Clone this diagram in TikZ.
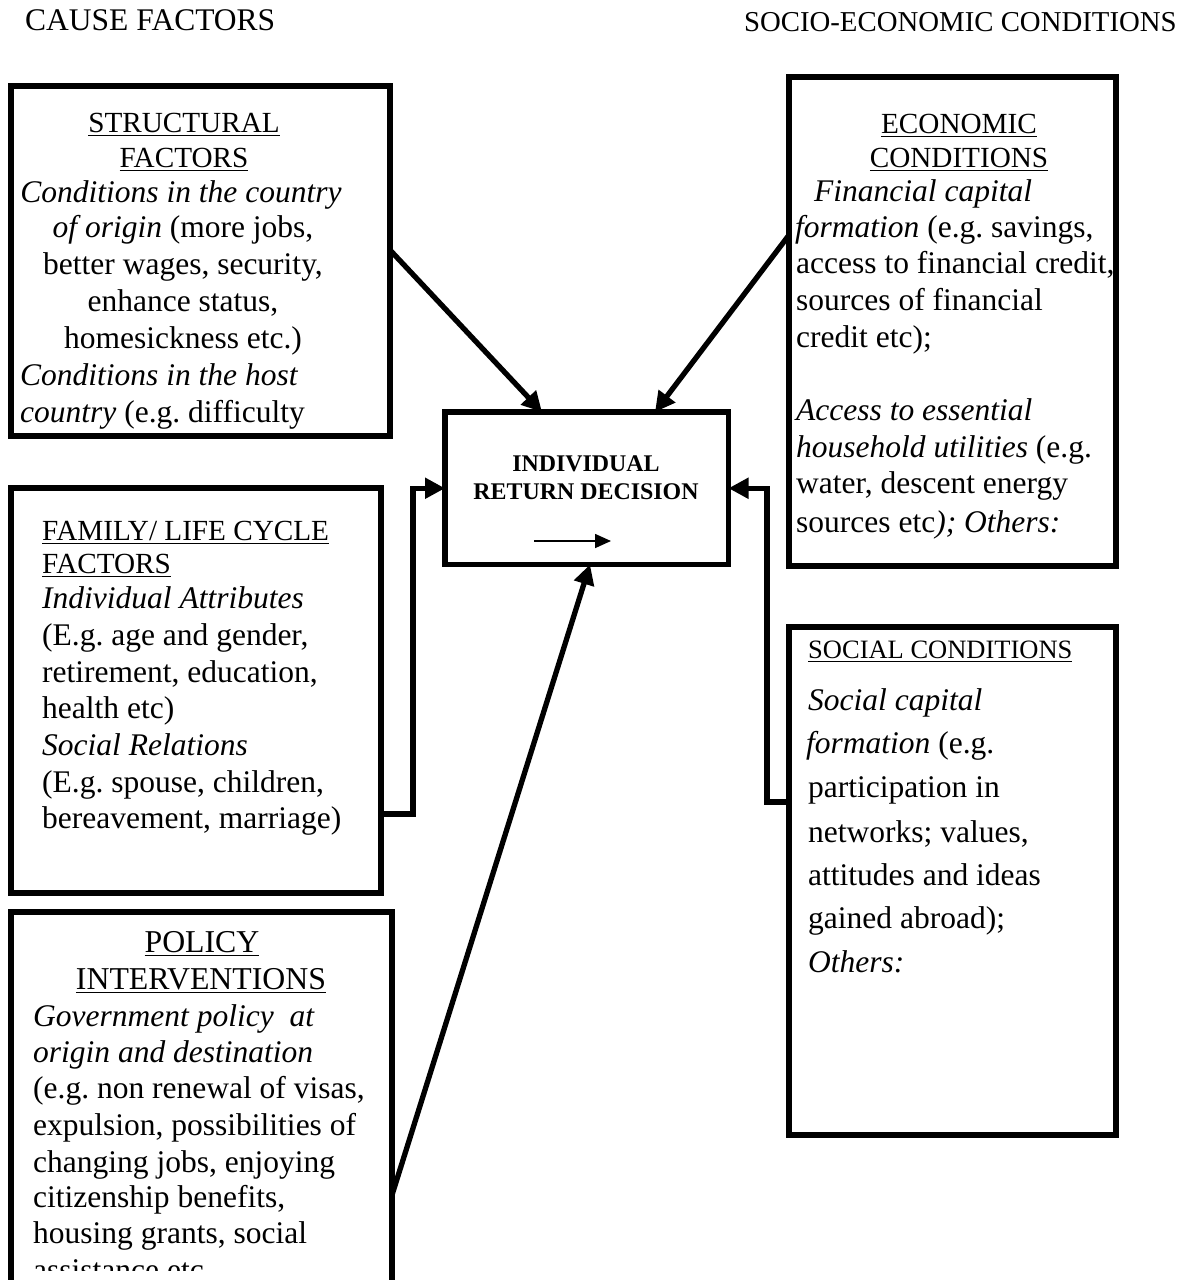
\documentclass[tikz,border=0pt]{standalone}
\usepackage{fontspec}
\setmainfont{Liberation Serif}
\usetikzlibrary{arrows.meta}
\frenchspacing
\newcommand{\myul}[1]{\leavevmode\sbox0{#1}\rlap{\rule[-4.2pt]{\wd0}{1.7pt}}\usebox0}
\begin{document}
\begin{tikzpicture}[x=1pt,y=-1pt,
  box/.style={draw, line width=5.8pt, inner sep=0pt, outer sep=0pt, anchor=north west},
  body/.style={inner sep=0pt, font=\fontsize{31.5}{36}\selectfont},
  head/.style={inner sep=0pt, font=\fontsize{29.2}{35}\selectfont},
  phead/.style={inner sep=0pt, font=\fontsize{31.8}{36}\selectfont},
  shead/.style={inner sep=0pt, font=\fontsize{26.5}{32}\selectfont},
  top/.style={inner sep=0pt},
  ctext/.style={inner sep=0pt, font=\fontsize{23.9}{28}\selectfont\bfseries},
  conn/.style={line width=5.3pt, -{Triangle[length=20pt,width=20pt]}},
  small/.style={line width=1.6pt, -{Triangle[length=16pt,width=14pt]}}]
\clip (0,0) rectangle (1185,1280);
\fill[white] (0,0) rectangle (1185,1280);

% headers
\node[top, anchor=base west, font=\fontsize{31.5}{36}\selectfont] (hcause) at (25,30) {CAUSE FACTORS};
\node[top, anchor=base east, font=\fontsize{28.8}{34}\selectfont] (hsocio) at (1177,31) {SOCIO-ECONOMIC CONDITIONS};

% structural factors text
\node[head, anchor=base] (st1) at (184,132) {\myul{STRUCTURAL}};
\node[head, anchor=base] (st2) at (184,167) {\myul{FACTORS}};
\node[body, anchor=base] (st3) at (181,202) {\textit{Conditions in the country}};
\node[body, anchor=base] (st4) at (183,237) {\textit{of origin} (more jobs,};
\node[body, anchor=base] (st5) at (183,274) {better wages, security,};
\node[body, anchor=base] (st6) at (183,311) {enhance status,};
\node[body, anchor=base] (st7) at (183,348) {homesickness etc.)};
\node[body, anchor=base west] (st8) at (20,385) {\textit{Conditions in the host}};
\node[body, anchor=base west] (st9) at (20,422) {\textit{country} (e.g. difficulty};

% economic conditions text
\node[head, anchor=base] (ec1) at (959,133) {\myul{ECONOMIC}};
\node[head, anchor=base] (ec2) at (959,167) {\myul{CONDITIONS}};
\node[body, anchor=base west] (ec3) at (814,201) {\textit{Financial capital}};
\node[body, anchor=base west] (ec4) at (795,237) {\textit{formation} (e.g. savings,};
\node[body, anchor=base west] (ec5) at (796,273) {access to financial credit,};
\node[body, anchor=base west] (ec6) at (796,310) {sources of financial};
\node[body, anchor=base west] (ec7) at (796,347) {credit etc);};
\node[body, anchor=base west] (ec8) at (796,420) {\textit{Access to essential}};
\node[body, anchor=base west] (ec9) at (796,457) {\textit{household utilities} (e.g.};
\node[body, anchor=base west] (ec10) at (796,493) {water, descent energy};
\node[body, anchor=base west] (ec11) at (796,532) {sources etc\textit{); Others:}};

% central text
\node[ctext, anchor=base] (ce1) at (586,471) {INDIVIDUAL};
\node[ctext, anchor=base] (ce2) at (586,499) {RETURN DECISION};

% family text
\node[head, anchor=base west] (fa1) at (42,540) {\myul{FAMILY/ LIFE CYCLE}};
\node[head, anchor=base west] (fa2) at (42,573) {\myul{FACTORS}};
\node[body, anchor=base west] (fa3) at (42,608) {\textit{Individual Attributes}};
\node[body, anchor=base west] (fa4) at (42,645) {(E.g. age and gender,};
\node[body, anchor=base west] (fa5) at (42,682) {retirement, education,};
\node[body, anchor=base west] (fa6) at (42,718) {health etc)};
\node[body, anchor=base west] (fa7) at (42,755) {\textit{Social Relations}};
\node[body, anchor=base west] (fa8) at (42,792) {(E.g. spouse, children,};
\node[body, anchor=base west] (fa9) at (42,828) {bereavement, marriage)};

% policy text
\node[phead, anchor=base] (po1) at (202,952) {\myul{POLICY}};
\node[phead, anchor=base] (po2) at (201,989) {\myul{INTERVENTIONS}};
\node[body, anchor=base west] (po3) at (33,1026) {\textit{Government policy\ \ at}};
\node[body, anchor=base west] (po4) at (33,1062) {\textit{origin and destination}};
\node[body, anchor=base west] (po5) at (33,1098) {(e.g. non renewal of visas,};
\node[body, anchor=base west] (po6) at (33,1135) {expulsion, possibilities of};
\node[body, anchor=base west] (po7) at (33,1172) {changing jobs, enjoying};
\node[body, anchor=base west] (po8) at (33,1207) {citizenship benefits,};
\node[body, anchor=base west] (po9) at (33,1243) {housing grants, social};
\begin{scope}
\clip (0,1200) rectangle (400,1270);
\node[body, anchor=base west] (po10) at (33,1280) {assistance etc.};
\end{scope}

% social text
\node[shead, anchor=base west] (so1) at (808,658) {\myul{SOCIAL CONDITIONS}};
\node[body, anchor=base west] (so2) at (808,710) {\textit{Social capital}};
\node[body, anchor=base west] (so3) at (806,753) {\textit{formation} (e.g.};
\node[body, anchor=base west] (so4) at (808,797) {participation in};
\node[body, anchor=base west] (so5) at (808,842) {networks; values,};
\node[body, anchor=base west] (so6) at (808,885) {attitudes and ideas};
\node[body, anchor=base west] (so7) at (808,928) {gained abroad);};
\node[body, anchor=base west] (so8) at (808,972) {\textit{Others:}};

% boxes
\node[box, minimum width=379pt, minimum height=350pt] (struct) at (11,86) {};
\node[box, minimum width=327pt, minimum height=489pt] (econ) at (789,77) {};
\node[box, minimum width=283.5pt, minimum height=152.5pt] (central) at (445,412) {};
\node[box, minimum width=370pt, minimum height=405pt] (fam) at (11,488) {};
\node[box, minimum width=381pt, minimum height=400pt] (policy) at (11,912) {};
\node[box, minimum width=327pt, minimum height=508pt] (social) at (789,627) {};

% connectors
\draw[conn] ([yshift=11pt]struct.east) -- ([xshift=-44.75pt]central.north);
\draw[conn] ([yshift=86.5pt]econ.west) -- ([xshift=68.25pt]central.north);
\draw[conn] ([yshift=-83pt]policy.east) -- ([xshift=3.25pt]central.south);
\draw[conn] ([yshift=-123.5pt]fam.east) -- ++(32,0) |- (central.west);
\draw[conn] ([yshift=79pt]social.west) -- ++(-22,0) |- (central.east);

% small arrow inside the decision box
\coordinate (sa) at (534,541);
\coordinate (sb) at (611,541);
\draw[small] (sa) -- (sb);
\end{tikzpicture}
\end{document}
